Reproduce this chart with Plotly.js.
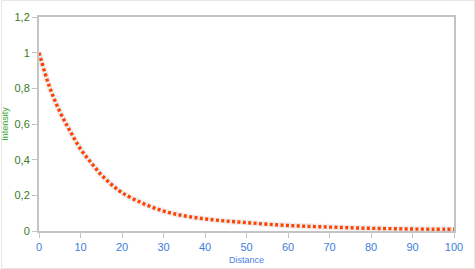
<!DOCTYPE html>
<html>
<head>
<meta charset="utf-8">
<script src="https://cdn.plot.ly/plotly-3.0.1.min.js"></script>
<style>
html,body{margin:0;padding:0;background:#fff;}
#wrap{position:relative;width:475px;height:269px;}
#chart{width:475px;height:269px;}
#frame{position:absolute;left:1px;top:0px;width:472px;height:267px;border:1px solid #e6e6e6;pointer-events:none;}
</style>
</head>
<body>
<div id="wrap"><div id="chart"></div><div id="frame"></div></div>
<script>
// Data
var distance = [0, 2.5, 5, 7.5, 10, 12.5, 15, 17.5, 20, 25, 30, 35, 40, 45, 50, 55, 60, 65, 70, 75, 80, 85, 90, 95, 100];
var intensity = [1, 0.81, 0.67, 0.56, 0.46, 0.385, 0.315, 0.26, 0.215, 0.155, 0.112, 0.085, 0.068, 0.056, 0.047, 0.038, 0.031, 0.026, 0.022, 0.018, 0.015, 0.013, 0.011, 0.010, 0.0095];
var xTicks = [0, 10, 20, 30, 40, 50, 60, 70, 80, 90, 100];
var yTicks = [0, 0.2, 0.4, 0.6, 0.8, 1, 1.2];

var halo = {
  x: distance, y: intensity, type: 'scatter', mode: 'lines',
  line: {color: '#eeeeee', width: 6, shape: 'spline'},
  hoverinfo: 'skip', showlegend: false
};
var curve = {
  x: distance, y: intensity, type: 'scatter', mode: 'lines',
  line: {color: '#ff4200', width: 3.4, dash: '3px,2.4px', shape: 'spline'},
  showlegend: false
};

var font = 'Liberation Sans, Arial, sans-serif';
var layout = {
  width: 475, height: 269,
  margin: {l: 39, r: 21, t: 17, b: 38, pad: 0},
  paper_bgcolor: '#ffffff', plot_bgcolor: '#ffffff',
  separators: ', ',
  showlegend: false,
  xaxis: {
    range: [0, 100], tickvals: xTicks, ticktext: xTicks.map(String),
    showgrid: false, zeroline: false,
    showline: true, linecolor: '#c4c4c4', linewidth: 2, mirror: true,
    ticks: 'outside', ticklen: 5, tickwidth: 1, tickcolor: '#c4c4c4',
    tickfont: {family: font, size: 11, color: '#3c7ddc'},
    title: {text: 'Distance', font: {family: font, size: 9, color: '#4a80e4'}, standoff: 4},
    fixedrange: true
  },
  yaxis: {
    range: [0, 1.2], tickvals: yTicks, ticktext: ['0', '0,2', '0,4', '0,6', '0,8', '1', '1,2'],
    showgrid: false, zeroline: false,
    showline: true, linecolor: '#c4c4c4', linewidth: 2, mirror: true,
    ticks: 'outside', ticklen: 5, tickwidth: 1, tickcolor: '#c4c4c4',
    tickfont: {family: font, size: 11, color: '#3a7a22'},
    title: {text: 'Intensity', font: {family: font, size: 9, color: '#35a52e'}, standoff: 4},
    fixedrange: true
  }
};

Plotly.newPlot('chart', [halo, curve], layout, {displayModeBar: false, staticPlot: true});
</script>
</body>
</html>
